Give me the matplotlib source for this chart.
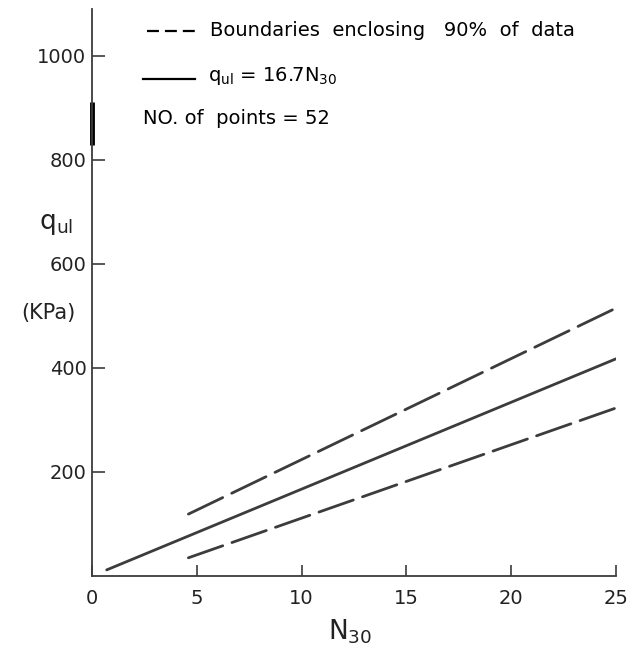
import matplotlib
matplotlib.use("Agg")
import matplotlib.pyplot as plt
from matplotlib.lines import Line2D

plt.rcParams["font.family"] = ["DejaVu Sans"]
plt.rcParams["mathtext.default"] = "regular"
plt.rcParams["lines.scale_dashes"] = False

# data
fit_n = [0.7, 25.0]
fit_q = [11.7, 417.5]          # q_ul = 16.7 N30
upper_n = [4.6, 25.0]
upper_q = [119, 515]
lower_n = [4.6, 25.0]
lower_q = [35, 323]

x_ticks = [0, 5, 10, 15, 20, 25]
y_ticks = [200, 400, 600, 800, 1000]

W, H = 640, 652
ink = "#3c3c3c"

fig = plt.figure(figsize=(W / 100, H / 100), dpi=100)
ax = fig.add_axes([92 / W, 1 - 576 / H, (616 - 92) / W, (576 - 9) / H])

ax.plot(fit_n, fit_q, color=ink, lw=2.0, solid_capstyle="round")
ax.plot(upper_n, upper_q, color=ink, lw=2.0, dashes=(27.4, 7.2), dash_capstyle="round")
ax.plot(lower_n, lower_q, color=ink, lw=2.0, dashes=(26.2, 7.0), dash_capstyle="round")

# thick patch on the y axis from the scan
ax.plot([0, 0], [829, 912], color="black", lw=3.5, clip_on=False, solid_capstyle="butt")

ax.set_xlim(0, 25)
ax.set_ylim(0, 1090)
ax.set_xticks(x_ticks)
ax.set_yticks(y_ticks)
ax.set_xticklabels([str(v) for v in x_ticks])
ax.set_yticklabels([str(v) for v in y_ticks])
ax.tick_params(axis="x", direction="in", length=8, width=1.2, color=ink,
               labelsize=14, labelcolor="#222222", pad=9)
ax.tick_params(axis="y", direction="in", length=9, width=1.2, color=ink,
               labelsize=14, labelcolor="#222222", pad=4)
for side in ("top", "right"):
    ax.spines[side].set_visible(False)
for side in ("left", "bottom"):
    ax.spines[side].set_color(ink)
    ax.spines[side].set_linewidth(1.3)

# axis titles
fig.text(56 / W, 1 - 224 / H, "q$_{ul}$", fontsize=19, ha="center", va="center", color="#222222")
fig.text(48 / W, 1 - 313 / H, "(KPa)", fontsize=15, ha="center", va="center", color="#222222")
fig.text(350 / W, 1 - 632 / H, "N$_{30}$", fontsize=19, ha="center", va="center", color="#222222")

# legend block
def px_line(x0, x1, y, **kw):
    fig.add_artist(Line2D([x0 / W, x1 / W], [1 - y / H, 1 - y / H], transform=fig.transFigure, **kw))

px_line(147, 195, 31, color="black", lw=1.6, dashes=(8.6, 4.3))
px_line(143, 195, 79, color="black", lw=1.6)
fig.text(210 / W, 1 - 31 / H, "Boundaries  enclosing   90%  of  data", fontsize=14,
         ha="left", va="center", color="black")
fig.text(208 / W, 1 - 76 / H, "q$_{ul}$ = 16.7N$_{30}$", fontsize=14,
         ha="left", va="center", color="black")
fig.text(143 / W, 1 - 118 / H, "NO. of  points = 52", fontsize=14,
         ha="left", va="center", color="black")

fig.savefig("out.png", dpi=100)
